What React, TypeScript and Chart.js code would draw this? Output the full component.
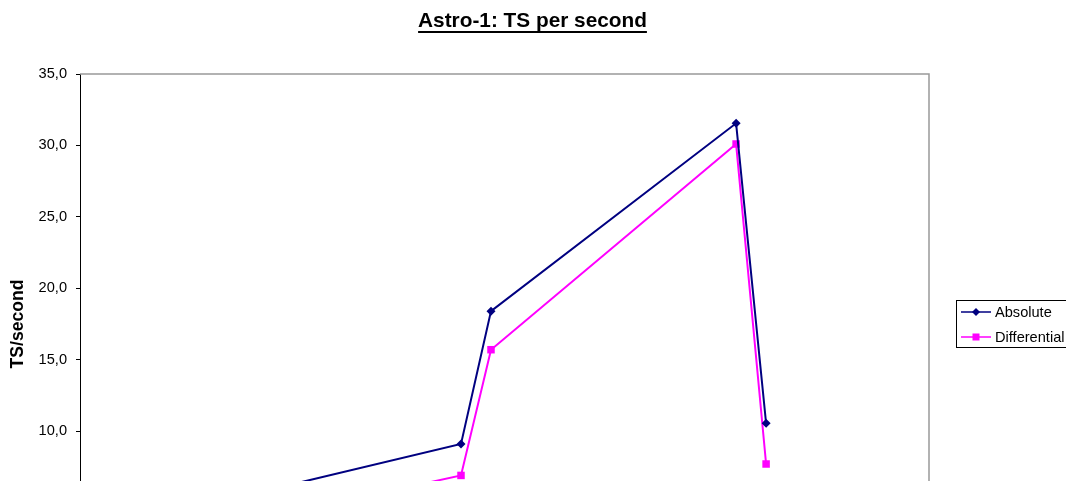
import React, { useEffect, useRef } from "react";
import { Chart, registerables } from "chart.js";

Chart.register(...registerables);

const titleText = "Astro-1: TS per second";
const yAxisTitle = "TS/second";
const seriesNames = ["Absolute", "Differential"];
const runX = [4.5, 5.5, 12.7, 13.7, 21.87, 22.87];
const absoluteValues = [5.0, 5.5, 9.1, 18.4, 31.55, 10.55];
const differentialValues = [2.8, 3.6, 6.9, 15.7, 30.1, 7.7];
const yTicks = [0, 5, 10, 15, 20, 25, 30, 35];

const NAVY = "#000080";
const MAGENTA = "#FF00FF";
const FONT = "'Liberation Sans', Arial, sans-serif";

const W = 1066;
const H = 614;

const decor = {
  id: "decor",
  beforeDatasetsDraw(chart: any) {
    const { ctx, chartArea } = chart;
    ctx.save();
    ctx.strokeStyle = "#999999";
    ctx.lineWidth = 1.5;
    ctx.beginPath();
    ctx.moveTo(chartArea.left, chartArea.top);
    ctx.lineTo(chartArea.right, chartArea.top);
    ctx.lineTo(chartArea.right, chartArea.bottom);
    ctx.stroke();
    ctx.restore();
  },
  afterDraw(chart: any) {
    const { ctx } = chart;
    ctx.save();
    // title
    ctx.font = `bold 20.8px ${FONT}`;
    ctx.fillStyle = "#000";
    ctx.textAlign = "center";
    ctx.textBaseline = "alphabetic";
    const cx = 532.5;
    ctx.fillText(titleText, cx, 27);
    const tw = ctx.measureText(titleText).width;
    ctx.fillRect(cx - tw / 2, 31, tw, 2);

    // legend
    const lx = 956, ly = 300, lw = 120, lh = 47;
    ctx.strokeStyle = "#000";
    ctx.lineWidth = 1;
    ctx.strokeRect(lx + 0.5, ly + 0.5, lw, lh);
    const items = [
      { name: seriesNames[0], color: NAVY, style: "rectRot", y: 312 },
      { name: seriesNames[1], color: MAGENTA, style: "rect", y: 337 },
    ];
    ctx.font = `14.6px ${FONT}`;
    ctx.textAlign = "left";
    ctx.textBaseline = "middle";
    for (const it of items) {
      ctx.strokeStyle = it.color;
      ctx.lineWidth = 1.5;
      ctx.beginPath();
      ctx.moveTo(961, it.y);
      ctx.lineTo(991, it.y);
      ctx.stroke();
      ctx.fillStyle = it.color;
      if (it.style === "rect") {
        ctx.fillRect(976 - 3.5, it.y - 3.5, 7, 7);
      } else {
        ctx.beginPath();
        ctx.moveTo(976, it.y - 4);
        ctx.lineTo(980, it.y);
        ctx.lineTo(976, it.y + 4);
        ctx.lineTo(972, it.y);
        ctx.closePath();
        ctx.fill();
      }
      ctx.fillStyle = "#000";
      ctx.fillText(it.name, 995, it.y + 1);
    }
    ctx.restore();
  },
};

export default function App() {
  const ref = useRef<HTMLCanvasElement | null>(null);
  useEffect(() => {
    if (!ref.current) return;
    const chart = new Chart(ref.current, {
      type: "line",
      data: {
        datasets: [
          {
            label: seriesNames[0],
            data: runX.map((x, i) => ({ x, y: absoluteValues[i] })),
            borderColor: NAVY,
            backgroundColor: NAVY,
            borderWidth: 2,
            pointStyle: "rectRot",
            pointRadius: 4.5,
            pointBorderWidth: 0,
            tension: 0,
          },
          {
            label: seriesNames[1],
            data: runX.map((x, i) => ({ x, y: differentialValues[i] })),
            borderColor: MAGENTA,
            backgroundColor: MAGENTA,
            borderWidth: 2,
            pointStyle: "rect",
            pointRadius: 5.3,
            pointBorderWidth: 0,
            tension: 0,
          },
        ],
      },
      options: {
        responsive: false,
        animation: false,
        layout: { padding: { top: 74, right: 137, left: 0, bottom: 0 } },
        plugins: {
          legend: { display: false },
          title: { display: false },
          tooltip: { enabled: false },
        },
        scales: {
          x: {
            type: "linear",
            min: 0,
            max: 28.3,
            grid: { drawOnChartArea: false, drawTicks: true, tickLength: 4, color: "#000" },
            border: { color: "#000", width: 1 },
            ticks: { display: false },
            afterFit: (s: any) => {
              s.height = 40;
            },
          },
          y: {
            min: 0,
            max: 35,
            afterBuildTicks: (s: any) => {
              s.ticks = yTicks.map((v) => ({ value: v }));
            },
            grid: { drawOnChartArea: false, drawTicks: true, tickLength: 4, color: "#000" },
            border: { color: "#000", width: 1 },
            ticks: {
              color: "#000",
              padding: 9,
              font: { family: FONT, size: 14.6 },
              callback: (v: any) => Number(v).toFixed(1).replace(".", ","),
            },
            title: {
              display: true,
              text: yAxisTitle,
              color: "#000",
              font: { family: FONT, size: 17.6, weight: "bold" },
              padding: { top: 8, bottom: 0 },
            },
            afterFit: (s: any) => {
              s.width = 80;
            },
          },
        },
      },
      plugins: [decor],
    });
    return () => chart.destroy();
  }, []);
  return (
    <div style={{ position: "fixed", left: 0, top: 0, width: W, height: 481, overflow: "hidden", background: "#fff" }}>
      <canvas ref={ref} width={W} height={H} style={{ display: "block", width: W, height: H }} />
    </div>
  );
}
